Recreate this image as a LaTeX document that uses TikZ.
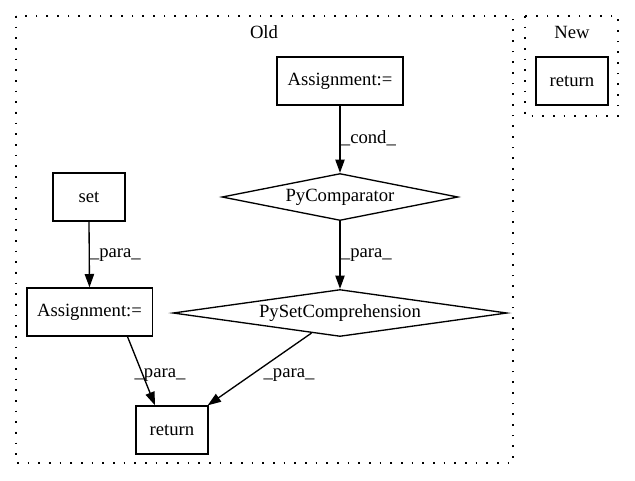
\documentclass[tikz,border=0pt]{standalone}
\usepackage{fontspec}
\setmainfont{Liberation Serif}
\usetikzlibrary{arrows.meta,shapes.geometric,calc}
\begin{document}
\begin{tikzpicture}[x=0.75pt,y=-0.75pt,
  every node/.style={font=\fontsize{14pt}{16pt}\selectfont},
  box/.style={draw=black,line width=1pt,rectangle,inner sep=0pt,minimum width=54pt,minimum height=36pt},
  dia/.style={draw=black,line width=1pt,diamond,inner sep=0pt},
  edge/.style={draw=black,line width=1pt,-{Triangle[length=10pt,width=7pt]}},
  lbl/.style={inner sep=0.5pt},
  clusterbox/.style={draw=black,line width=1.2pt,dash pattern=on 1.2pt off 6.8pt}]
\useasboundingbox (0,0) rectangle (635,480);
% clusters
\draw[clusterbox] (16,16) rectangle (513,463);
\draw[clusterbox] (525,16) rectangle (618,116);
\node (oldlbl) at (264,32) {Old};
\node (newlbl) at (572,32) {New};
% nodes
\node[box,minimum width=94.5pt] (a1) at (340,81) {Assignment:=};
\node[dia,minimum width=177pt,minimum height=35.25pt,shape aspect=5] (pc) at (340,197) {PyComparator};
\node[dia,minimum width=250.5pt,minimum height=35.25pt,shape aspect=7.1] (psc) at (340,313) {PySetComprehension};
\node[box] (set) at (89,197) {set};
\node[box,minimum width=94pt] (a2) at (89.5,312) {Assignment:=};
\node[box] (ret) at (172,430) {return};
\node[box] (newret) at (572,81) {return};
% edges
\draw[edge] (a1.south) -- (pc.north);
\draw[edge] (pc.south) -- (psc.north);
\draw[edge] (set.south) -- (a2.north);
\draw[edge] ([xshift=28.5pt]a2.south) -- ([xshift=-12.75pt]ret.north);
\draw[edge] ($(psc.south)!0.17!(psc.west)$) -- ([xshift=-0.75pt]ret.north east);
% edge labels
\node[lbl,anchor=west] (l1) at (340,138) {\_cond\_};
\node[lbl,anchor=west] (l2) at (89,255) {\_para\_};
\node[lbl,anchor=west] (l3) at (340,255) {\_para\_};
\node[lbl] (l4) at (160,375) {\_para\_};
\node[lbl] (l5) at (289,375) {\_para\_};
\end{tikzpicture}
\end{document}
